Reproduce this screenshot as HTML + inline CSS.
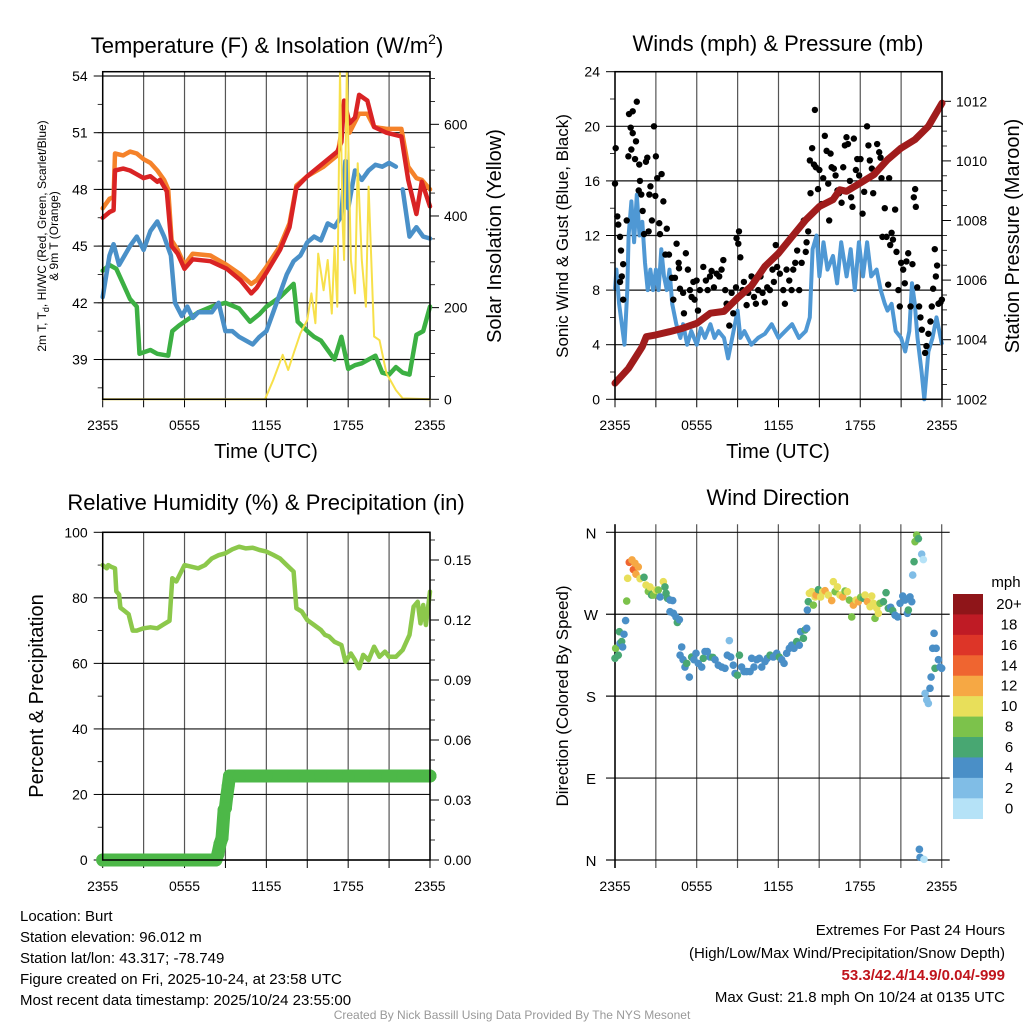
<!DOCTYPE html>
<html><head><meta charset="utf-8"><title>Mesonet Burt</title>
<style>
html,body{margin:0;padding:0;background:#fff;}
svg{display:block;font-family:"Liberation Sans",Arial,sans-serif;}
</style></head>
<body>
<svg id="fig" width="1024" height="1024" viewBox="0 0 1024 1024" xmlns="http://www.w3.org/2000/svg">
<rect x="0" y="0" width="1024" height="1024" fill="#fff"/>
<text x="267" y="53" font-size="22" text-anchor="middle">Temperature (F) &amp; Insolation (W/m<tspan font-size="14" dy="-9">2</tspan><tspan dy="9">)</tspan></text>
<text x="778" y="51" font-size="22" text-anchor="middle">Winds (mph) &amp; Pressure (mb)</text>
<text x="266" y="510" font-size="22" text-anchor="middle">Relative Humidity (%) &amp; Precipitation (in)</text>
<text x="778" y="505" font-size="22" text-anchor="middle">Wind Direction</text>

<text transform="translate(46,236) rotate(-90)" font-size="12" text-anchor="middle">2m T, T<tspan font-size="9" dy="3">d</tspan><tspan dy="-3">, HI/WC (Red, Green, Scarlet/Blue)</tspan></text>
<text transform="translate(58,236) rotate(-90)" font-size="12" text-anchor="middle">&amp; 9m T (Orange)</text>
<text transform="translate(501,236) rotate(-90)" font-size="20" text-anchor="middle">Solar Insolation (Yellow)</text>
<text transform="translate(568,236) rotate(-90)" font-size="17" text-anchor="middle">Sonic Wind &amp; Gust (Blue, Black)</text>
<text transform="translate(1019,236) rotate(-90)" font-size="20" text-anchor="middle">Station Pressure (Maroon)</text>
<text transform="translate(43,696) rotate(-90)" font-size="20" text-anchor="middle">Percent &amp; Precipitation</text>
<text transform="translate(568,696) rotate(-90)" font-size="17" text-anchor="middle">Direction (Colored By Speed)</text>
<text x="266" y="458" font-size="20" text-anchor="middle">Time (UTC)</text>
<text x="778" y="458" font-size="20" text-anchor="middle">Time (UTC)</text>

<g font-size="15">
<text x="20" y="921">Location: Burt</text>
<text x="20" y="942">Station elevation: 96.012 m</text>
<text x="20" y="963">Station lat/lon: 43.317; -78.749</text>
<text x="20" y="984">Figure created on Fri, 2025-10-24, at 23:58 UTC</text>
<text x="20" y="1005">Most recent data timestamp: 2025/10/24 23:55:00</text>
</g>
<g font-size="15" text-anchor="end">
<text x="1005" y="935">Extremes For Past 24 Hours</text>
<text x="1005" y="958">(High/Low/Max Wind/Precipitation/Snow Depth)</text>
<text x="1005" y="980" fill="#c0141c" font-weight="bold">53.3/42.4/14.9/0.04/-999</text>
<text x="1005" y="1002">Max Gust: 21.8 mph On 10/24 at 0135 UTC</text>
</g>
<text x="512" y="1019" font-size="12" fill="#999" text-anchor="middle">Created By Nick Bassill Using Data Provided By The NYS Mesonet</text>
<g id="plots"></g>
</svg>
<script>
// ---------- DATA ----------
const timeTickHours = [0, 6, 12, 18, 24];
const timeTickLabels = ["2355", "0555", "1155", "1755", "2355"];

const redH = [0,0.5,0.8,0.9,1.5,2,2.5,3,3.5,4,4.2,4.7,5.05,5.5,6,6.6,7.9,9.1,10.1,10.9,11.3,12,13,13.7,14.2,15,16.2,17.2,17.5,17.7,18.1,18.5,18.8,19.4,19.9,20.8,21.9,22.4,23,23.4,24];
const redT = [46.5,46.8,46.9,49.0,49.1,49.0,48.8,48.6,48.7,48.4,48.5,47.9,45.0,44.6,43.8,44.3,44.2,43.8,43.2,42.5,42.8,43.6,44.8,46.0,48.1,48.7,49.4,50.0,50.5,52.7,51.5,51.8,53.0,52.7,51.3,51.0,50.8,48.5,46.7,48.4,47.1];
const orangeH = [0,0.5,0.8,0.9,1.5,2,2.5,3,3.5,4,4.5,4.8,5.05,5.5,6,6.6,7.9,9.1,10.1,10.9,11.3,12,13,13.7,14.2,15,16.2,17.2,17.5,17.7,18.1,18.8,19.4,19.9,20.8,21.9,22.4,23,23.4,24];
const orangeT = [47.0,47.5,47.6,49.9,49.8,50.0,49.9,49.6,49.4,49.0,48.5,48.0,45.3,44.8,44.0,44.6,44.5,44.0,43.5,43.0,43.2,43.9,45.0,46.2,48.2,48.7,49.2,49.8,51.0,52.5,51.0,52.0,52.0,51.3,51.2,51.2,49.2,48.6,48.5,48.0];
const blueH = [0,0.5,0.8,1.2,2,2.5,3,3.5,4,4.5,5,5.3,5.8,6.2,6.6,7,8,8.5,9,9.5,10,11,11.5,12,12.5,13,13.5,14,14.5,15,15.5,16,16.5,17,17.5,17.8,18,18.5,19,19.5,20,20.5,21,21.5];
const blueT = [42.3,44.5,45.1,44.0,45.0,45.5,44.8,45.8,46.3,45.5,44.5,42.0,41.3,41.8,41.2,41.5,41.5,42.0,40.5,40.5,40.2,39.8,40.2,40.5,41.5,42.5,43.5,44.2,44.5,45.2,45.5,45.3,46.2,46.0,46.6,49.5,47.0,49.0,48.5,49.0,49.3,49.2,49.4,49.2];
const blue2H = [22,22.5,23,23.5,24];
const blue2T = [48.0,45.5,46.0,45.5,45.4];
const greenH = [0,0.5,1,1.5,2,2.5,2.7,3.5,4,4.8,5.1,5.6,6,7,8,9,10,10.8,11.5,12,13,14,14.3,15,15.5,16,16.5,17,17.5,18,18.5,19,19.5,20,20.5,21,21.5,22,22.5,23,23.5,24];
const greenT = [43.7,44.0,43.8,43.0,42.2,41.8,39.3,39.5,39.3,39.2,40.5,40.8,41.0,41.5,41.8,42.0,41.7,41.0,41.4,41.8,42.3,43.0,41.0,40.5,40.2,40.0,39.5,39.0,40.2,38.5,38.7,38.8,39.0,39.2,38.3,38.2,38.6,38.3,38.2,40.3,40.5,41.8];
const insolH = [0,11.9,12.5,13.2,13.6,14,14.5,15,15.3,15.6,15.8,16.2,16.5,16.8,17,17.2,17.4,17.6,17.7,17.9,18.2,18.5,18.7,19,19.3,19.5,19.9,20.3,20.8,21.5,22,24];
const insolV = [0,0,42,97,64,100,144,173,231,166,318,238,304,187,333,202,715,380,304,715,304,231,515,304,202,464,137,129,57,20,2,0];
const tempTicks = [39,42,45,48,51,54];
const insolTicks = [0,200,400,600];

const windH = [0,0.1,0.3,0.5,0.7,0.9,1.0,1.2,1.4,1.6,1.8,2,2.2,2.4,2.6,2.8,3,3.2,3.4,3.6,3.8,4,4.2,4.5,4.8,5,5.3,5.6,6,6.3,6.6,7,7.3,7.6,8,8.3,8.6,9,9.2,9.5,10,10.5,11,11.5,12,12.5,13,13.5,14,14.3,14.5,14.8,15,15.3,15.6,16,16.3,16.6,17,17.3,17.6,17.9,18.2,18.5,18.8,19.2,19.5,19.8,20,20.3,20.6,21,21.3,21.6,21.8,22,22.2,22.5,22.7,23,23.3,23.6,23.8,24];
const windV = [8,9.5,7,5.5,4,8,12,14.5,11.5,15,12,13,10,8,9.5,8,9.5,8,11,9,8,9.5,7,5.5,4.5,5.5,4,5,4,5.2,4.5,5.5,4.5,5,4.5,3,4.5,6.5,4.5,5,4,4.5,4.8,5.5,4.5,5,5.5,4.5,5,6,11,12,9,11.5,9.5,10.5,8.5,11.5,9,11,8,11.5,9,11.5,9,9.5,8,7,6.5,7,5,4.5,3.5,5,8.5,7,4.5,2,0,3.5,4.5,6,5,4];
const gustH = [0,0.05,0.17,0.24,0.37,0.44,0.6,0.5,0.37,0.6,0.86,0.98,1.03,1.15,1.3,1.6,1.3,1.2,1.54,1.47,1.78,1.83,1.93,1.74,2.03,2.13,2.27,2.37,2.52,2.6,2.47,2.71,2.86,3.0,2.96,3.1,3.25,3.42,3.3,3.55,3.8,3.7,3.96,4.18,4.28,4.52,4.67,4.7,4.4,4.77,5.0,5.06,5.2,5.35,5.5,5.62,5.75,5.84,5.99,6.09,6.23,6.48,6.67,6.8,6.97,7.09,7.26,7.46,7.65,7.82,7.95,8.09,8.19,8.39,8.56,8.68,8.88,8.92,9.1,9.05,9.2,9.36,9.46,9.66,9.78,10.02,10.2,10.34,10.51,10.68,10.83,11.0,11.17,11.37,11.56,11.66,11.8,11.9,12.1,12.35,12.47,12.59,12.79,12.96,13.08,13.23,13.37,13.52,13.7,13.86,14.0,14.06,14.18,14.3,14.35,14.47,14.6,14.67,14.74,14.9,15.0,15.16,15.28,15.4,15.53,15.65,15.72,15.82,15.9,16.06,16.19,16.33,16.45,16.63,16.75,16.87,16.99,17.1,17.24,17.33,17.43,17.53,17.68,17.78,17.92,18.02,18.17,18.29,18.5,18.6,18.7,18.85,18.95,19.07,19.24,19.39,19.49,19.56,19.63,19.8,19.93,20.05,20.12,20.2,20.3,20.4,20.56,20.66,20.8,20.9,21.0,21.15,21.27,21.39,21.52,21.69,21.83,21.93,22.03,22.08,22.18,22.32,22.42,22.52,22.76,22.86,23.0,23.15,23.25,23.35,23.47,23.55,23.64,23.74,23.89,23.99];
const gustV = [15.8,18.4,13.4,12.8,11.9,10.9,9.9,9,8.6,7.3,13.1,17.8,20.9,19.9,21.1,21.8,19.5,18.3,18.9,17.6,17.2,16,15,15.3,13.8,12.1,17.4,17.7,15,15.6,12.3,13.1,20,17.8,14.9,16.2,12.9,16.5,12.1,14.5,12.5,10.6,10.6,8.9,7.3,11.4,10,9.6,8.9,8.1,7.8,6.3,10.7,9.5,8,7.5,8.6,7.3,8.7,6.5,8,9.7,8.7,8,9,9.4,8.2,9.2,9,9.5,10.2,8,7,5.4,7.8,6.3,8.2,11.8,12.3,11.4,10.4,8,8.6,6.9,7.8,9,7.5,7,8,9,7.8,7.1,8.2,8,9.5,8.6,11.3,9.7,9.2,8,7,9.5,8.7,8,9.5,10,10.9,8,10,13.1,10.8,11.5,12.3,17.5,15.1,18.4,17.2,21.2,17,15.4,16.8,14.3,16.2,19.3,18.2,15.8,13.1,18,17,16.9,16.4,15.3,15.1,14.4,17,18.6,19.2,18.7,16,14.8,14.1,19.1,16.8,17.6,16.4,17.6,13.6,15.2,20,18.6,17.5,16.9,15.1,16.5,18.7,18.1,17.7,16.2,11.9,14,11.9,8.4,16.2,11.3,12.2,11.7,13.9,10.8,8,6.8,10,9.5,8.5,10.1,10.7,6.8,9.9,14.8,15.4,14.1,8.2,6.8,6,5.1,3.4,3.9,4.8,5.7,6.8,8.1,11,9,9.8,7,7.1,7.3];
const presH = [0,1,2,2.3,3,4,5,6,7,8,9,10,11,12,13,14,15,16,16.5,17,18,19,20,21,22,23,24];
const presV = [1002.54,1003.04,1003.77,1004.1,1004.16,1004.27,1004.39,1004.55,1004.89,1004.95,1005.4,1005.8,1006.46,1006.9,1007.46,1008.02,1008.47,1008.7,1009.03,1008.98,1009.26,1009.54,1010.04,1010.43,1010.71,1011.16,1011.94];
const windTicks = [0,4,8,12,16,20,24];
const presTicks = [1002,1004,1006,1008,1010,1012];

const rhH = [0,0.3,0.4,0.6,0.9,1.0,1.2,1.3,1.6,1.9,2.2,2.5,3,3.5,4,4.5,4.9,5.1,5.4,6,6.5,7,7.5,8,8.5,9,9.5,10,10.5,11,11.5,12,12.5,13,13.5,14,14.2,14.6,15,15.5,16,16.3,16.6,17,17.5,17.8,18.2,18.5,18.8,19.1,19.5,19.9,20.3,20.7,21,21.5,22,22.5,22.8,23.1,23.3,23.5,23.7,24];
const rhV = [90,89,90,89.5,89,82,81,77,76,75,70,70,70.7,71,70.7,72,73,86,85,90,89.5,89,90,92,93,93.6,94.8,95.6,95.1,95.3,94.6,94.1,93.1,92,90,88,76.8,75.8,73.2,71.7,70.2,68.7,68.2,66.6,65.6,60.5,63,61,58.5,62.6,61,65.1,62,63.6,62,62,64.1,68.7,77.3,78.8,72.2,77.8,71.7,81.9];
const precipH = [0,1,2,3,4,5,6,7,8,8.3,8.45,8.6,8.75,8.9,9.0,9.1,9.2,9.3,9.45,10,12,14,16,18,20,22,24];
const precipV = [0,0,0,0,0,0,0,0,0,0,0.003,0.008,0.011,0.025,0.026,0.032,0.037,0.042,0.042,0.042,0.042,0.042,0.042,0.042,0.042,0.042,0.042];
const rhTicks = [0,20,40,60,80,100];
const precipTicks = ["0.00","0.03","0.06","0.09","0.12","0.15"];

const dirH = [0,0.05,0.24,0.32,0.37,0.49,0.56,0.66,0.78,0.86,0.93,1.05,1.25,1.35,1.47,1.54,1.71,1.84,2.13,2.28,2.45,2.57,2.69,2.82,3.01,3.18,3.31,3.55,3.67,3.75,3.85,4.04,4.24,4.04,4.29,4.48,4.58,4.73,4.9,4.78,5.0,5.14,5.27,5.46,5.63,5.8,5.95,6.12,6.37,6.49,6.61,6.78,6.98,7.18,7.35,7.59,7.84,8.08,8.25,8.4,8.5,8.69,8.82,8.99,9.14,9.3,9.48,9.67,9.92,10.04,10.21,10.41,10.6,10.78,11.02,11.19,11.39,11.63,11.88,12.07,12.25,12.42,12.61,12.81,12.98,13.15,13.35,13.54,13.64,13.84,13.96,14.08,14.13,14.2,14.28,14.45,14.57,14.7,14.77,14.94,15.11,15.26,15.43,15.67,15.92,16.04,16.17,16.34,16.53,16.73,16.9,17.07,17.22,17.39,17.51,17.71,17.88,18.05,18.25,18.37,18.54,18.74,18.86,18.98,19.1,19.23,19.35,19.47,19.72,19.91,20.08,20.25,20.4,20.57,20.77,20.94,21.14,21.3,21.48,21.55,21.67,21.8,21.87,21.97,22.04,22.16,22.29,22.53,22.65,22.36,22.41,22.7,22.78,22.9,23.02,23.14,23.22,23.34,23.44,23.51,23.59,23.76,23.88,24.0];
const dirV = [221.6,232.5,225,250.8,238,240,234,248,263,284.5,309.4,327,329.6,319,326,314,322,309,310.5,302,295,300,291,291,296.6,296.6,289,305.8,300,293,287.5,285.6,285,272.8,271,267,261,264,234,225,220,212,216,201,223,220,227,216,212,221.6,229,229,223,222.6,220,214,212,210.6,225,241,223,214,205,203,225,212,207,207,207,221.6,212,220,221.6,212,218,221.6,225,223,227,223,220,216,227,232.5,236,232.5,240,236,250.8,243.5,252.7,254.5,274.6,283.8,293,294.8,280,289,291,297,289,294.8,295.9,291,285,305.8,294.8,300,291,289,295.5,294.8,285.6,267,280,285.6,283.8,288.6,287.5,291,283.8,278.3,290,282,265.5,276.5,271,282,283.8,293.7,276.5,277.6,274,269,267,282,290,285.6,271,274.6,289,283.8,313,327.7,349.7,357,353,336,330,11.7,2.9,0.7,183,175.8,172,188.6,201,232.5,249,210.6,232.5,220,212,210.6];
const dirS = [7,9,7,7,5,7,5,5,5,9,11,15,13,15,13,12,13,11,7,11,9,11,7,9,11,9,5,11,7,7,7,5,5,5,5,5,7,5,5,5,5,5,7,5,7,5,5,5,5,7,5,5,5,7,5,5,5,5,5,3,5,5,5,7,7,5,5,5,5,5,5,5,5,5,5,5,7,5,5,7,5,5,5,5,5,5,7,5,5,7,7,5,5,7,11,11,9,11,13,7,11,11,13,11,13,11,9,11,11,13,9,11,9,9,13,11,13,9,7,11,13,11,11,11,9,11,11,9,7,7,7,5,7,5,5,5,5,5,5,7,5,5,3,7,9,9,7,3,1,5,5,1,3,3,3,5,5,5,5,7,5,5,5,5];
const dirTickVals = [0,90,180,270,360];
const dirTickLabels = ["N","E","S","W","N"];
const speedBinLabels = ["0","2","4","6","8","10","12","14","16","18","20+"];
const speedBinColors = ["#b5e2f7","#80bde6","#4a8fc7","#48a772","#7cc24b","#e8df5a","#f6a844","#ef6530","#dd3528","#bf1b25","#8f1519"];

// ---------- DRAWING ----------
const NS = "http://www.w3.org/2000/svg";
const root = document.getElementById("plots");
function mk(tag, attrs, parent, name) {
  const e = document.createElementNS(NS, tag);
  for (const k in attrs) e.setAttribute(k, attrs[k]);
  
  
  (parent || root).appendChild(e);
  return e;
}
function linePath(hs, vs, sx, sy) {
  let d = "";
  for (let i = 0; i < hs.length; i++) d += (i ? "L" : "M") + sx(hs[i]).toFixed(1) + "," + sy(vs[i]).toFixed(1);
  return d;
}
function xScale(x0, x1) { return h => x0 + (x1 - x0) * h / 24; }

function frame(g, x0, x1, y0, y1, pre, hGrid, yLeft, leftTicks, leftLabels, leftMinor, yRight, rightTicks, rightLabels, rightMinor, xLabelY) {
  const sx = xScale(x0, x1);
  for (let h = 0; h <= 24; h += 3) {
    mk("line", {x1: sx(h), x2: sx(h), y1: y0, y2: y1, stroke: "#555", "stroke-width": 1.2}, g, pre + "-vgrid");
    mk("line", {x1: sx(h), x2: sx(h), y1: y1, y2: y1 + 8, stroke: "#000", "stroke-width": 1}, g, pre + "-x-tick");
  }
  for (let i = 0; i < timeTickHours.length; i++) {
    const t = mk("text", {x: sx(timeTickHours[i]), y: xLabelY, "font-size": 14, "text-anchor": "middle"}, g, pre + "-x-tick-label");
    t.textContent = timeTickLabels[i];
  }
  for (let i = 0; i < leftTicks.length; i++) {
    const y = yLeft(leftTicks[i]);
    if (hGrid) mk("line", {x1: x0, x2: x1, y1: y, y2: y, stroke: "#111", "stroke-width": 1.2}, g, pre + "-hgrid");
    mk("line", {x1: x0 - 9, x2: x0, y1: y, y2: y, stroke: "#000", "stroke-width": 1}, g, pre + "-y-tick");
    const t = mk("text", {x: x0 - 15, y: y + 5, "font-size": 14, "text-anchor": "end"}, g, pre + "-y-tick-label");
    t.textContent = leftLabels[i];
  }
  leftMinor.forEach(v => mk("line", {x1: x0 - 5, x2: x0, y1: yLeft(v), y2: yLeft(v), stroke: "#000", "stroke-width": 0.8}, g, pre + "-y-minor-tick"));
  if (yRight) {
    for (let i = 0; i < rightTicks.length; i++) {
      const y = yRight(rightTicks[i]);
      mk("line", {x1: x1, x2: x1 + 9, y1: y, y2: y, stroke: "#000", "stroke-width": 1}, g, pre + "-y2-tick");
      const t = mk("text", {x: x1 + 14, y: y + 5, "font-size": 14}, g, pre + "-y2-tick-label");
      t.textContent = rightLabels[i];
    }
    rightMinor.forEach(v => mk("line", {x1: x1, x2: x1 + 5, y1: yRight(v), y2: yRight(v), stroke: "#000", "stroke-width": 0.8}, g, pre + "-y2-minor-tick"));
  }
  return sx;
}
function border(g, x0, x1, y0, y1, pre) {
  mk("rect", {x: x0, y: y0, width: x1 - x0, height: y1 - y0, fill: "none", stroke: "#000", "stroke-width": 1.5}, g, pre + "-frame");
}

// Panel 1: temperature
(function () {
  const g = mk("g", {}, root, "temperature-panel");
  const x0 = 102.7, x1 = 430, y0 = 71.7, y1 = 399.3;
  const yT = T => 76 + (54 - T) * 18.9;
  const yI = I => 399.3 - I * 0.4583;
  const minorT = [37.5,39,40.5,42,43.5,45,46.5,48,49.5,51,52.5];
  const minorI = [50,100,150,250,300,350,450,500,550,650,700];
  const sx = frame(g, x0, x1, y0, y1, "temp", true, yT, tempTicks, tempTicks.map(String), minorT, yI, insolTicks, insolTicks.map(String), minorI, 430);
  const cl = {fill: "none", "stroke-linejoin": "round", "stroke-linecap": "round"};
  mk("path", Object.assign({d: linePath(greenH, greenT, sx, yT), stroke: "#3cb043", "stroke-width": 4.5}, cl), g, "dewpoint-line");
  mk("path", Object.assign({d: linePath(blueH, blueT, sx, yT), stroke: "#4a90c8", "stroke-width": 4.5}, cl), g, "windchill-line");
  mk("path", Object.assign({d: linePath(blue2H, blue2T, sx, yT), stroke: "#4a90c8", "stroke-width": 4.5}, cl), g, "windchill-line-2");
  mk("path", Object.assign({d: linePath(orangeH, orangeT, sx, yT), stroke: "#f5822a", "stroke-width": 4.5}, cl), g, "temp-9m-line");
  mk("path", Object.assign({d: linePath(redH, redT, sx, yT), stroke: "#d92324", "stroke-width": 4.5}, cl), g, "temp-2m-line");
  mk("path", Object.assign({d: linePath(insolH, insolV, sx, yI), stroke: "#f7e04a", "stroke-width": 2}, cl), g, "insolation-line");
  border(g, x0, x1, y0, y1, "temp");
})();

// Panel 2: winds
(function () {
  const g = mk("g", {}, root, "winds-panel");
  const x0 = 615, x1 = 942, y0 = 71.7, y1 = 399.3;
  const yS = s => 399.3 - s * 13.65;
  const yP = p => 399.3 - (p - 1002) * 29.8;
  const minorS = [2,6,10,14,18,22];
  const minorP = [1002.5,1003,1003.5,1004.5,1005,1005.5,1006.5,1007,1007.5,1008.5,1009,1009.5,1010.5,1011,1011.5];
  const sx = frame(g, x0, x1, y0, y1, "wind", true, yS, windTicks, windTicks.map(String), minorS, yP, presTicks, presTicks.map(String), minorP, 430);
  mk("path", {d: linePath(windH, windV, sx, yS), stroke: "#4f98d4", "stroke-width": 4, fill: "none", "stroke-linejoin": "round"}, g, "wind-speed-line");
  for (let i = 0; i < gustH.length; i++) {
    mk("circle", {cx: sx(gustH[i]), cy: yS(gustV[i]), r: 3.2, fill: "#000"}, g, "gust-point");
  }
  mk("path", {d: linePath(presH, presV, sx, yP), stroke: "#a01c1c", "stroke-width": 7, fill: "none", "stroke-linejoin": "round", "stroke-linecap": "round"}, g, "pressure-line");
  border(g, x0, x1, y0, y1, "wind");
})();

// Panel 3: humidity
(function () {
  const g = mk("g", {}, root, "humidity-panel");
  const x0 = 102.7, x1 = 430, y0 = 532.3, y1 = 860;
  const yR = r => 860 - r * 3.277;
  const yPr = p => 860 - p * 2000;
  const minorR = [10,30,50,70,90];
  const minorPr = [0.01,0.02,0.04,0.05,0.07,0.08,0.1,0.11,0.13,0.14,0.16];
  const sx = frame(g, x0, x1, y0, y1, "rh", true, yR, rhTicks, rhTicks.map(String), minorR, yPr, precipTicks.map(Number), precipTicks, minorPr, 891);
  mk("path", {d: linePath(rhH, rhV, sx, yR), stroke: "#8cc84b", "stroke-width": 4.5, fill: "none", "stroke-linejoin": "round", "stroke-linecap": "round"}, g, "humidity-line");
  mk("path", {d: linePath(precipH, precipV, sx, yPr), stroke: "#4db848", "stroke-width": 13, fill: "none", "stroke-linejoin": "round", "stroke-linecap": "round"}, g, "precip-line");
  for (let i = 0; i < precipH.length; i++) {
    mk("circle", {cx: sx(precipH[i]), cy: yPr(precipV[i]), r: 6.5, fill: "#4db848"}, g, "precip-point");
  }
  border(g, x0, x1, y0, y1, "rh");
})();

// Panel 4: wind direction
(function () {
  const g = mk("g", {}, root, "direction-panel");
  const x0 = 615, x1 = 941.7, y0 = 532.3, y1 = 860;
  const yD = d => 860 - d * 0.9103;
  const sx = xScale(x0, x1);
  for (let h = 0; h <= 24; h += 3) {
    mk("line", {x1: sx(h), x2: sx(h), y1: y0 - 8, y2: y1 + 8, stroke: "#555", "stroke-width": 1.2}, g, "dir-vgrid");
  }
  for (let i = 0; i < timeTickHours.length; i++) {
    const t = mk("text", {x: sx(timeTickHours[i]), y: 891, "font-size": 14, "text-anchor": "middle"}, g, "dir-x-tick-label");
    t.textContent = timeTickLabels[i];
  }
  for (let i = 0; i < dirTickVals.length; i++) {
    const y = yD(dirTickVals[i]);
    mk("line", {x1: x0 - 9, x2: x1 + 8, y1: y, y2: y, stroke: "#111", "stroke-width": 1.2}, g, "dir-hgrid");
    const t = mk("text", {x: 591, y: y + 6, "font-size": 15, "text-anchor": "middle"}, g, "dir-y-tick-label");
    t.textContent = dirTickLabels[i];
  }
  mk("line", {x1: x0, x2: x0, y1: y0 - 8, y2: y1 + 8, stroke: "#000", "stroke-width": 1.5}, g, "dir-left-axis");
  for (let i = 0; i < dirH.length; i++) {
    const bin = Math.min(10, Math.floor(dirS[i] / 2));
    mk("circle", {cx: sx(dirH[i]), cy: yD(dirV[i]), r: 3.8, fill: speedBinColors[bin]}, g, "direction-point");
  }
  // colorbar
  const cbX = 953, cbW = 30, cbTop = 594, cbH = 20.43;
  const lt = mk("text", {x: 1006, y: 587, "font-size": 15, "text-anchor": "middle"}, g, "colorbar-title");
  lt.textContent = "mph";
  for (let i = 0; i < speedBinLabels.length; i++) {
    const k = speedBinLabels.length - 1 - i;
    mk("rect", {x: cbX, y: cbTop + i * cbH, width: cbW, height: cbH + 0.3, fill: speedBinColors[k]}, g, "colorbar-swatch");
    const t = mk("text", {x: 1009, y: cbTop + i * cbH + 15, "font-size": 15, "text-anchor": "middle"}, g, "colorbar-label");
    t.textContent = speedBinLabels[k];
  }
})();
</script>
</body></html>
